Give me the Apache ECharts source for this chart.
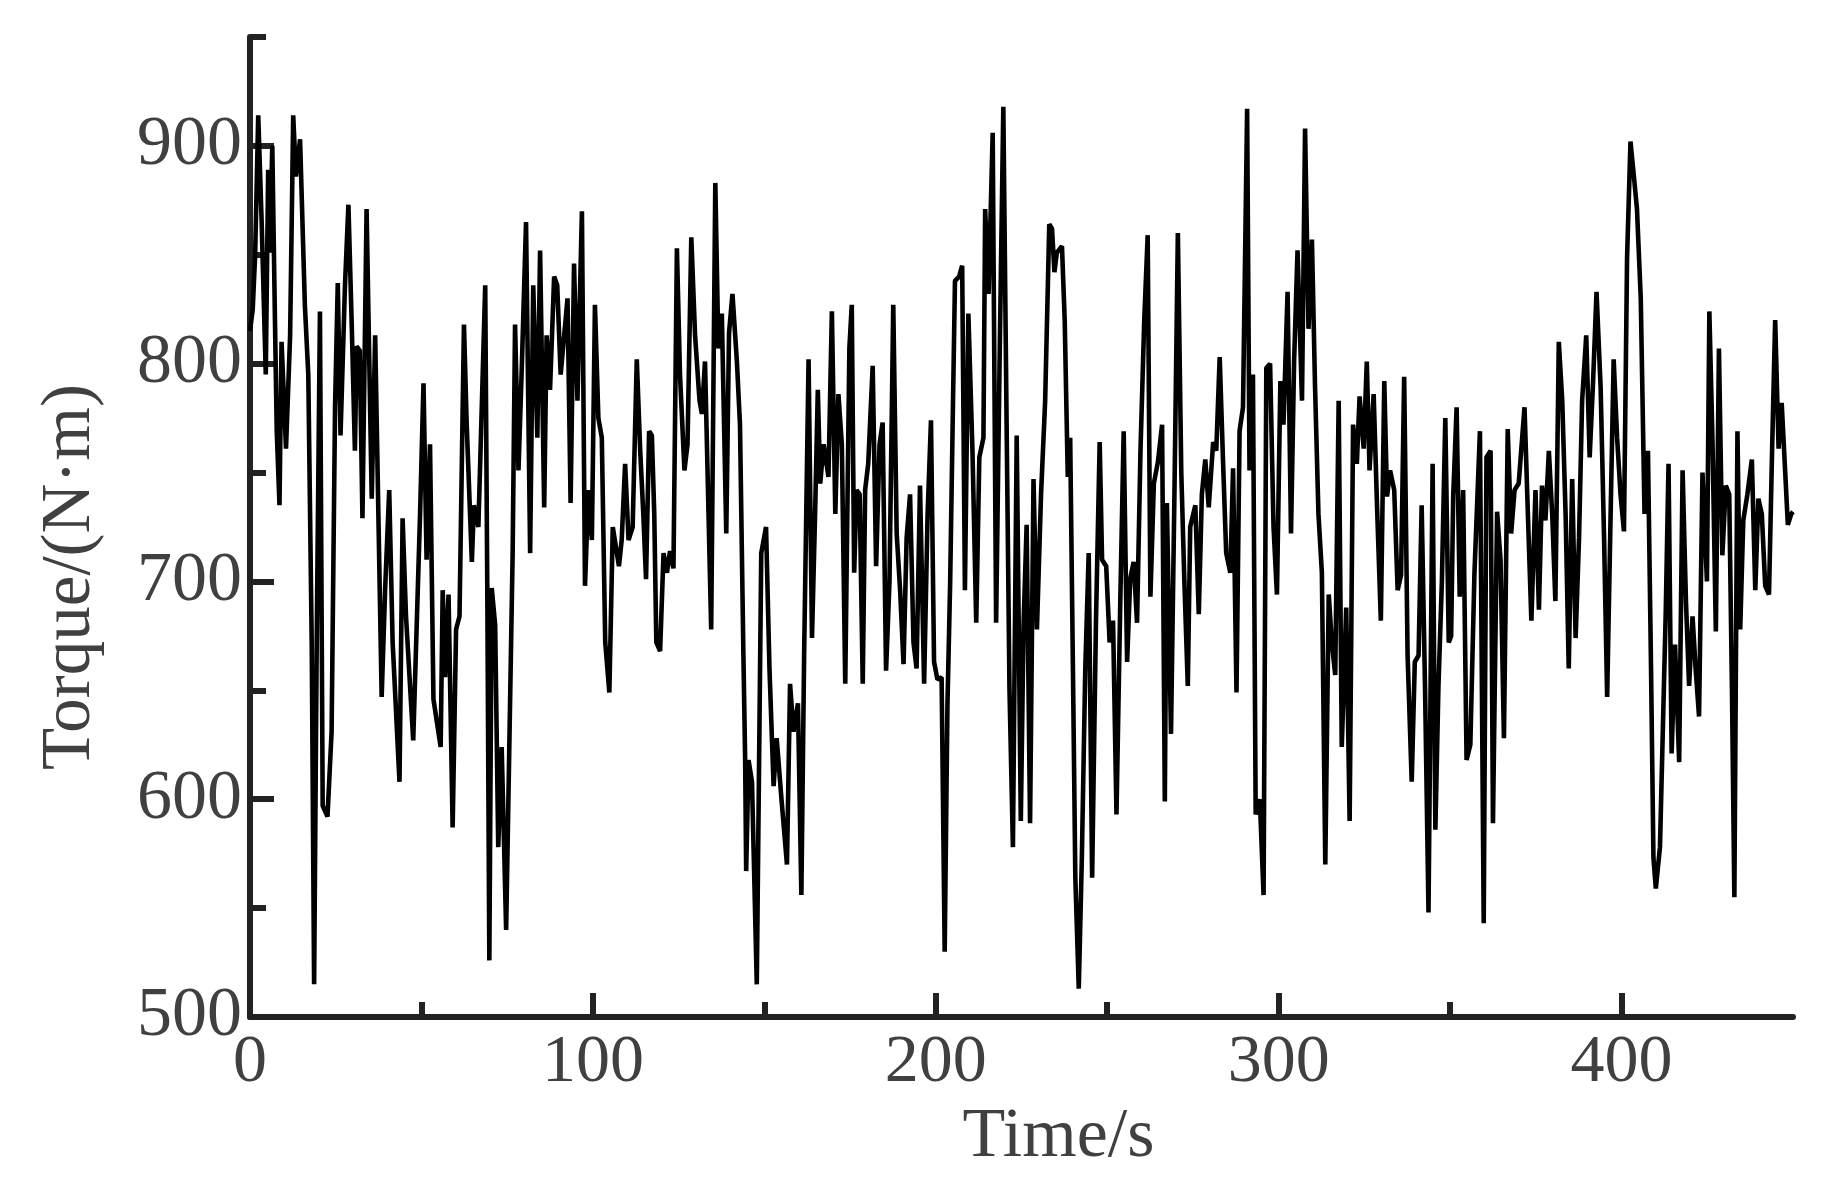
<!DOCTYPE html>
<html>
<head>
<meta charset="utf-8">
<script src="https://cdn.jsdelivr.net/npm/echarts@6/dist/echarts.min.js"></script>
<style>
html,body{margin:0;padding:0;background:#fff;}
#chart{width:1828px;height:1189px;}
</style>
</head>
<body>
<div id="chart"></div>
<script>
// Time (s)
var times = [
0,0.8,1.5,2.4,3.4,4.6,5.3,5.8,6.5,7.3,7.8,8.6,9.2,10.5,11.7,12.6,13.4,14.6,16,17,18,18.7,19.5,20.4,21.2,22.6,23.8,24.8,25.6,26.4,27.7,28.7,29.7,30.6,31.1,32,32.8,34,35.5,36.5,38.4,39.4,40.6,41.6,43.6,44.5,45.5,47.6,49.6,50.6,51.5,52.5,53.5,55.6,56.2,56.9,57.9,
59.1,60.1,61.1,62.4,63.2,64.7,65.3,66.6,68.6,69.2,69.8,70.5,71.5,72.4,73.4,74.7,76.6,77.3,78.3,79.3,80.5,81.7,82.6,83.8,84.6,85.8,86.5,87.5,88.7,89.6,90.6,92.6,93.5,94.5,95.5,96.8,97.7,98.7,99.7,100.6,101.6,102.6,103.6,104.8,105.8,107.6,108.4,109.4,110.4,111.6,112.8,113.8,114.7,115.5,116.4,
117.2,117.9,118.5,119.6,120.6,121.6,122.5,123.5,124.5,125.4,126.7,127.6,128.7,129.8,131.1,131.8,132.7,134.5,135.7,136.6,137.6,138.9,139.7,140.7,142,142.9,143.9,144.4,144.7,145.4,146.4,147.8,149.1,150.5,151.5,152.7,153.6,155,156.6,157.5,158.5,159.8,160.8,161.6,162.9,163.9,164.8,165.6,166.3,167.3,168.7,169.7,170.7,171.6,172.6,173.6,174.8,
175.5,176.2,176.9,177.8,178.7,179.4,180.3,181.6,182.6,183.6,184.5,185.5,186.5,187.6,188.6,189.6,190.6,191.5,192.5,193.5,194.4,195.4,196.6,197.6,198.6,199.5,200.5,201.7,202.6,203.4,204.2,205,205.6,206.8,207.7,208.5,209.5,210.7,211.8,212.7,213.9,214.4,215.4,216.6,217.6,218.6,219.7,220.7,221.5,222.5,223.6,224.8,225.6,226.5,227.5,228.5,229.5,230.7,231.9,233.1,
233.9,234.6,235.3,236.8,237.6,238.5,239.2,240,240.7,241.7,242.6,243.6,244.6,245.6,246.7,247.8,248.5,249.7,250.7,251.7,252.7,253.8,254.8,255.8,256.7,257.7,258.7,259.7,260.8,261.8,262.6,263.6,264.8,266,266.8,267.4,268.6,269.6,270.6,271.6,272.5,273.5,274.2,275.7,276.7,277.6,278.6,279.6,280.9,281.8,282.8,283.8,284.7,285.9,286.7,287.7,288.6,289.6,290.8,291.5,
292.5,293.3,294.5,295.6,296.4,297.5,298.5,299.5,300.5,301.4,302.6,303.6,304.5,305.5,306.8,307.7,308.7,309.7,310.6,311.6,312.6,313.6,314.6,315.5,316.5,317.5,318.4,319.7,320.7,321.7,322.8,323.6,324.8,325.7,326.5,327.7,328.7,329.8,330.8,331.6,332.5,333.7,334.7,335.7,336.6,337.6,338.8,339.7,340.8,341.7,342.7,343.7,344.9,345.7,346.6,347.6,348.6,349.6,
350.3,350.9,351.9,352.8,353.8,354.8,355.9,357.1,358.7,359.8,360.6,361.8,362.5,363.7,364.7,365.7,366.8,367.8,368.8,370,371.7,372.7,373.7,374.9,375.9,376.8,377.8,378.8,379.8,380.7,381.7,382.7,383.7,384.6,385.6,386.6,387.6,388.5,389.7,390.7,391.7,392.7,393.9,394.9,395.8,396.8,397.7,398.7,399.7,400.7,401.6,402.6,403.6,404.5,405.6,406.7,407.7,
408.6,409.3,410,411.2,412.9,413.7,414.6,415.6,416.8,417.8,418.8,419.7,420.7,421.6,422.6,423.6,424.9,425.6,426.5,427.5,428.4,429.4,430.4,431.4,432.2,432.9,433.8,434.6,435.5,436.7,438,439,439.9,440.9,441.9,443,443.9,444.8,445.8,446.7,447.7,448.5,449.5,450
];
// Torque (N·m)
var torque = [
815,825,850,914,865,795,889,851,900,818,769,735,810,761,813,914,886,903,827,795,672,515,680,824,597,592,631,780,837,767,836,873,816,760,808,806,729,871,738,813,647,696,742,672,608,729,684,627,731,791,710,763,646,624,696,656,694,
587,678,684,818,772,709,735,725,836,698,526,697,680,578,624,540,713,818,751,800,865,713,836,766,852,734,813,788,840,836,795,830,736,846,783,870,698,742,719,827,775,766,672,649,725,707,719,754,719,725,802,760,731,701,769,
767,731,672,668,713,704,714,706,853,795,751,763,858,813,783,777,801,678,883,807,823,722,814,832,801,772,666,619,567,618,608,515,713,725,660,606,628,600,570,653,631,644,556,666,802,674,731,788,745,763,748,824,731,786,763,653,807,
827,704,742,740,653,742,754,799,707,763,773,659,700,827,722,696,662,720,740,672,660,744,653,730,774,663,655,656,530,643,700,780,838,840,845,696,823,760,681,757,766,871,832,906,681,800,918,766,650,578,767,590,680,726,589,747,678,740,783,864,
862,842,851,854,820,748,766,660,564,513,573,660,713,564,680,764,710,707,672,682,593,690,769,663,701,709,681,760,820,859,693,745,755,772,599,736,630,740,860,750,700,652,725,735,685,740,756,734,764,760,803,754,713,704,752,649,769,780,917,751,
795,593,600,556,798,800,725,694,792,772,833,722,801,852,783,908,816,857,790,731,704,570,694,672,657,783,624,688,590,772,754,785,761,801,751,786,734,682,792,739,751,742,696,703,794,666,608,663,666,735,650,548,754,586,652,700,775,672,
675,739,780,693,742,618,625,704,769,543,757,760,589,732,710,628,770,722,742,745,780,730,682,742,687,744,728,760,730,691,810,783,730,660,747,674,720,783,813,757,792,833,789,720,647,730,802,766,740,723,848,902,886,871,830,731,760,
660,573,559,578,687,754,621,671,617,751,690,652,684,660,638,750,700,824,766,677,807,712,744,740,650,555,769,678,728,740,756,696,738,731,698,694,760,820,761,782,751,726,731,732
];
var xLabelValues = [0,100,200,300,400];
var xMinorTickValues = [50,150,250,350];
var xMajorTickValues = [100,200,300,400];
var yLabelValues = [500,600,700,800,900];
var yMinorTickValues = [550,650,750,850,950];
var yMajorTickValues = [600,700,800,900];

var seriesData = times.map(function(t,i){return [t, torque[i]];});

var chart = echarts.init(document.getElementById('chart'), null, {renderer:'canvas'});
var fontFam = '"Liberation Serif","Times New Roman",serif';
var txtColor = '#404040';
var axColor = '#222222';
chart.setOption({
  animation:false,
  backgroundColor:'#ffffff',
  grid:{left:250,right:35,top:37,bottom:172,containLabel:false},
  xAxis:[{
    type:'value',min:0,max:450,interval:50,position:'bottom',
    name:'Time/s',nameLocation:'middle',nameGap:86,
    nameTextStyle:{fontFamily:fontFam,fontSize:70,color:txtColor,padding:[0,0,0,74]},
    axisLine:{show:true,lineStyle:{color:axColor,width:6,cap:'round'}},
    axisTick:{show:true,inside:true,length:15,customValues:xMinorTickValues,lineStyle:{color:axColor,width:6}},
    axisLabel:{show:true,customValues:xLabelValues,fontFamily:fontFam,fontSize:68,color:txtColor,margin:12},
    splitLine:{show:false}
  },{
    type:'value',min:0,max:450,interval:50,position:'bottom',
    axisLine:{show:false},
    axisTick:{show:true,inside:true,length:24,customValues:xMajorTickValues,lineStyle:{color:axColor,width:6}},
    axisLabel:{show:false},
    splitLine:{show:false}
  }],
  yAxis:[{
    type:'value',min:500,max:950,interval:50,position:'left',
    name:'Torque/(N·m)',nameLocation:'middle',nameGap:145,
    nameTextStyle:{fontFamily:fontFam,fontSize:69,color:txtColor,padding:[0,100,0,0]},
    axisLine:{show:true,lineStyle:{color:axColor,width:6,cap:'round'}},
    axisTick:{show:true,inside:true,length:16,customValues:yMinorTickValues,lineStyle:{color:axColor,width:6}},
    axisLabel:{show:true,customValues:yLabelValues,fontFamily:fontFam,fontSize:70,color:txtColor,margin:8},
    splitLine:{show:false}
  },{
    type:'value',min:500,max:950,interval:50,position:'left',
    axisLine:{show:false},
    axisTick:{show:true,inside:true,length:24,customValues:yMajorTickValues,lineStyle:{color:axColor,width:6}},
    axisLabel:{show:false},
    splitLine:{show:false}
  }],
  series:[{
    type:'line',xAxisIndex:0,yAxisIndex:0,data:seriesData,
    showSymbol:false,symbol:'none',
    lineStyle:{color:'#000000',width:4.6},
    emphasis:{disabled:true}
  }]
});
</script>
</body>
</html>
